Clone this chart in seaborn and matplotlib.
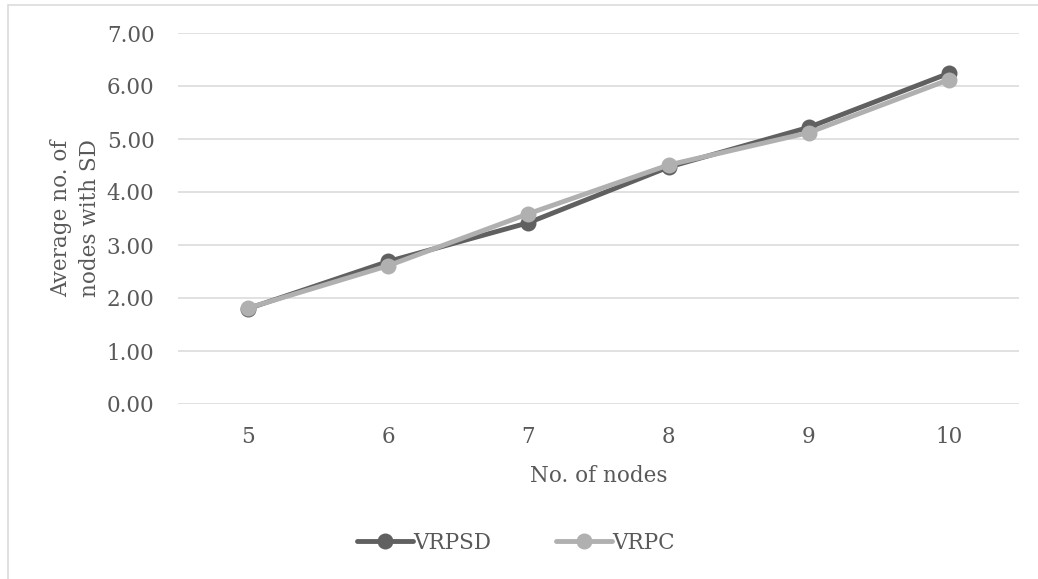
import matplotlib
matplotlib.use("Agg")
import matplotlib.pyplot as plt
from matplotlib.lines import Line2D
import seaborn as sns
import pandas as pd

nodes = [5, 6, 7, 8, 9, 10]
vrpsd = [1.80, 2.69, 3.42, 4.47, 5.22, 6.24]
vrpc = [1.81, 2.61, 3.59, 4.51, 5.12, 6.12]
series_names = ["VRPSD", "VRPC"]
yticks = [0, 1, 2, 3, 4, 5, 6, 7]

df = pd.DataFrame({
    "nodes": nodes * 2,
    "value": vrpsd + vrpc,
    "series": [series_names[0]] * len(nodes) + [series_names[1]] * len(nodes),
})

sns.set_theme(style="white")
plt.rcParams["font.family"] = ["DejaVu Serif"]
text_color = "#595959"
grid_color = "#D9D9D9"

fig = plt.figure(figsize=(10.38, 5.79), dpi=100)
ax = fig.add_axes([178 / 1038, 1 - 404 / 579, 841 / 1038, 371 / 579])

palette = {"VRPSD": "#606060", "VRPC": "#B0B0B0"}
sns.lineplot(data=df, x="nodes", y="value", hue="series", hue_order=series_names,
             palette=palette, marker="o", markersize=11.5, markeredgewidth=0,
             linewidth=3.5, ax=ax, legend=True)

ax.set_xlim(4.5, 10.5)
ax.set_ylim(0, 7)
ax.set_yticks(yticks)
ax.set_yticklabels([f"{v:.2f}" for v in yticks])
ax.set_xticks(nodes)
ax.set_xticklabels([str(n) for n in nodes])
ax.grid(axis="y", color=grid_color, linewidth=1.1)
ax.grid(axis="x", visible=False)
ax.set_axisbelow(True)
for s in ax.spines.values():
    s.set_visible(False)
ax.tick_params(axis="both", length=0, labelsize=15.5, labelcolor=text_color)
ax.tick_params(axis="y", pad=17)
ax.tick_params(axis="x", pad=16)

ax.set_ylabel("Average no. of\nnodes with SD", fontsize=15.5, color=text_color,
              linespacing=1.4)
ax.yaxis.set_label_coords(-0.092, 0.5)
ax.set_xlabel("No. of nodes", fontsize=15.5, color=text_color)
ax.xaxis.set_label_coords(0.5, -0.165)
ax.xaxis.label.set_va("top")

handles, labels = ax.get_legend_handles_labels()
ax.get_legend().remove()
fig.legend(handles, labels, loc="center", bbox_to_anchor=(0.497, 1 - 543 / 579),
           ncol=2, frameon=False, fontsize=15.5, labelcolor=text_color,
           handlelength=2.6, handletextpad=0.0, columnspacing=3.0)

fig.add_artist(Line2D([8 / 1038, 1.0], [1 - 5 / 579, 1 - 5 / 579],
                      color=grid_color, linewidth=1.1, transform=fig.transFigure))
fig.add_artist(Line2D([8 / 1038, 8 / 1038], [0, 1 - 5 / 579],
                      color=grid_color, linewidth=1.1, transform=fig.transFigure))

fig.savefig("out.png", dpi=100, facecolor="white")
